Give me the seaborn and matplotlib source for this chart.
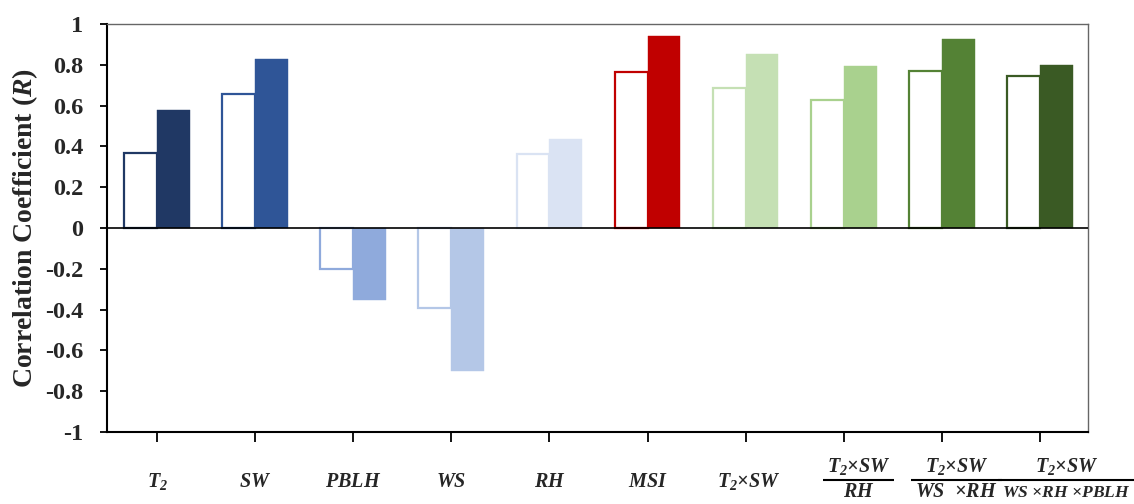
import matplotlib
matplotlib.use("Agg")
import matplotlib.pyplot as plt
import seaborn as sns
import pandas as pd

# Variables and their correlation coefficients for the two cases
categories = ["T2", "SW", "PBLH", "WS", "RH", "MSI",
              "T2xSW", "T2xSW/RH", "T2xSW/(WSxRH)", "T2xSW/(WSxRHxPBLH)"]
# (numerator, denominator) of each x label; denominator None for plain labels
x_labels = [
    (r"$T_2$", None),
    (r"$SW$", None),
    (r"$PBLH$", None),
    (r"$WS$", None),
    (r"$RH$", None),
    (r"$MSI$", None),
    (r"$T_2{\times}SW$", None),
    (r"$T_2{\times}SW$", r"$RH$"),
    (r"$T_2{\times}SW$", r"$WS\ \ {\times}RH$"),
    (r"$T_2{\times}SW$", r"$WS\ {\times}RH\ {\times}PBLH$"),
]
label_shift = [0, 0, 0, 0, 0, 0, 0.03, 0.15, 0.15, 0.27]
denominator_sizes = [None] * 7 + [14.5, 14.5, 12.6]
r_open = [0.368, 0.657, -0.20, -0.39, 0.363, 0.767, 0.684, 0.629, 0.770, 0.745]
r_filled = [0.578, 0.828, -0.353, -0.70, 0.436, 0.941, 0.852, 0.792, 0.924, 0.800]
bar_colors = ["#203864", "#2F5597", "#8FAADC", "#B4C7E7", "#DAE3F3",
              "#C00000", "#C5E0B4", "#A9D18E", "#548235", "#3A5A24"]
y_ticks = [1, 0.8, 0.6, 0.4, 0.2, 0, -0.2, -0.4, -0.6, -0.8, -1]
y_tick_labels = ["1", "0.8", "0.6", "0.4", "0.2", "0",
                 "-0.2", "-0.4", "-0.6", "-0.8", "-1"]

sns.set_theme(style="white")
plt.rcParams["font.family"] = ["Liberation Serif", "DejaVu Serif"]
plt.rcParams["font.weight"] = "bold"
plt.rcParams["mathtext.fontset"] = "custom"
plt.rcParams["mathtext.it"] = "Liberation Serif:italic:bold"
plt.rcParams["mathtext.rm"] = "Liberation Serif:italic:bold"
plt.rcParams["mathtext.bf"] = "Liberation Serif:bold"

df = pd.DataFrame({
    "var": categories * 2,
    "kind": ["open"] * len(categories) + ["filled"] * len(categories),
    "R": r_open + r_filled,
})

fig = plt.figure(figsize=(11.34, 5.04), dpi=100)
ax = fig.add_axes([0.0944, 0.1429, 0.8650, 0.8095])

sns.barplot(data=df, x="var", y="R", hue="kind", order=categories,
            hue_order=["open", "filled"], width=0.67, legend=False,
            errorbar=None, ax=ax)

# recolour: first hue level is outlined, second solid
n = len(categories)
for i, patch in enumerate(ax.patches[:2 * n]):
    c = bar_colors[i % n]
    if i < n:
        patch.set_facecolor("white")
        patch.set_edgecolor(c)
        patch.set_linewidth(1.6)
    else:
        patch.set_facecolor(c)
        patch.set_edgecolor(c)
        patch.set_linewidth(0.3)

ax.axhline(0, color="black", lw=1.2, zorder=5)
ax.set_xlim(-0.51, 9.49)
ax.set_ylim(-1, 1)
ax.set_yticks(y_ticks)
ax.set_yticklabels(y_tick_labels, fontsize=17.5, fontweight="bold")
ax.set_xticks(range(n))
ax.set_xticklabels([""] * n)
ax.tick_params(axis="x", direction="out", length=7, width=1.3,
               bottom=True, color="black")
ax.tick_params(axis="y", direction="out", length=5, width=1.3, pad=12,
               left=True, color="black")
ax.set_xlabel("")
ax.set_ylabel("Correlation Coefficient ($R$)", fontsize=20,
              fontweight="bold", labelpad=4)

for side in ["left", "bottom"]:
    ax.spines[side].set_color("black")
    ax.spines[side].set_linewidth(1.5)
for side in ["top", "right"]:
    ax.spines[side].set_color("#666666")
    ax.spines[side].set_linewidth(1.0)

# category labels below the axis; ratios get a fraction bar
xtrans = ax.get_xaxis_transform()
fractions = []
for i, (num, den) in enumerate(x_labels):
    x = i + label_shift[i]
    if den is None:
        ax.text(x, -0.1348, num, transform=xtrans, ha="center",
                va="baseline", fontsize=14.5, clip_on=False)
    else:
        t_num = ax.text(x, -0.098, num, transform=xtrans, ha="center",
                        va="baseline", fontsize=14.5, clip_on=False)
        t_den = ax.text(x, -0.1593, den, transform=xtrans, ha="center",
                        va="baseline", fontsize=denominator_sizes[i],
                        clip_on=False)
        fractions.append((t_num, t_den))

fig.canvas.draw()
renderer = fig.canvas.get_renderer()
inv = ax.transData.inverted()
for t_num, t_den in fractions:
    b1 = t_num.get_window_extent(renderer)
    b2 = t_den.get_window_extent(renderer)
    x0 = inv.transform((min(b1.x0, b2.x0) - 4, 0))[0]
    x1 = inv.transform((max(b1.x1, b2.x1) + 4, 0))[0]
    ax.plot([x0, x1], [-0.1176, -0.1176], transform=xtrans, color="black",
            lw=1.5, clip_on=False, solid_capstyle="butt")

fig.savefig("out.png", dpi=100, facecolor="white")
